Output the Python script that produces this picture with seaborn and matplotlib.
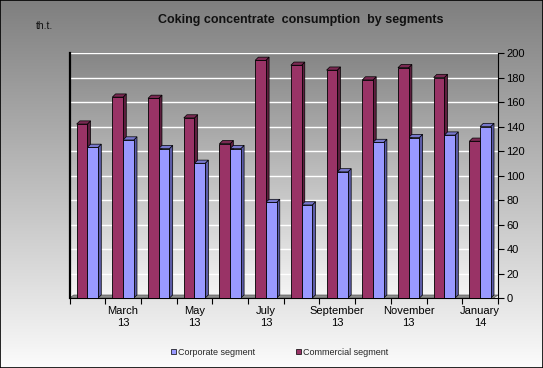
import matplotlib
matplotlib.use("Agg")
import matplotlib.pyplot as plt
from matplotlib.patches import Polygon, Patch
import seaborn as sns
import numpy as np
import pandas as pd

# Data (thousand tonnes)
months = ["Feb 13", "Mar 13", "Apr 13", "May 13", "Jun 13", "Jul 13",
          "Aug 13", "Sep 13", "Oct 13", "Nov 13", "Dec 13", "Jan 14"]
commercial = [142, 164, 163, 147, 126, 194, 190, 186, 178, 188, 180, 128]
corporate = [123, 129, 122, 110, 122, 78, 76, 103, 127, 131, 133, 140]
tick_pos = [1, 3, 5, 7, 9, 11]
tick_labels = ["March\n13", "May\n13", "July\n13", "September\n13",
               "November\n13", "January\n14"]
y_ticks = list(range(0, 201, 20))

df = pd.DataFrame({
    "month": months * 2,
    "segment": ["Commercial segment"] * 12 + ["Corporate segment"] * 12,
    "value": commercial + corporate,
})

sns.set_theme(style="white")
plt.rcParams["font.family"] = ["Liberation Sans", "DejaVu Sans"]

fig = plt.figure(figsize=(5.43, 3.68), dpi=100)

# background gradient for the whole chart area
bg = fig.add_axes([0, 0, 1, 1], zorder=-5)
grad = np.linspace(0, 1, 256).reshape(-1, 1)
bg.imshow(grad, aspect="auto", cmap=sns.blend_palette(["#7f7f7f", "#fbfbfb"], as_cmap=True),
          extent=[0, 1, 0, 1], origin="upper")
bg.set_axis_off()
fig.patches.append(plt.Rectangle((0, 0), 1, 1, transform=fig.transFigure, fill=False,
                                 edgecolor="black", linewidth=1.2))

ax = fig.add_axes([0.128, 0.19, 0.789, 0.666])
ax.imshow(grad, aspect="auto", cmap=sns.blend_palette(["#858585", "#f6f6f6"], as_cmap=True),
          extent=[0, 1, 0, 1], origin="upper", transform=ax.transAxes, zorder=-3)

palette = {"Commercial segment": "#993366", "Corporate segment": "#9999ff"}
sns.barplot(data=df, x="month", y="value", hue="segment",
            hue_order=["Commercial segment", "Corporate segment"],
            palette=palette, width=0.6, saturation=1, edgecolor="black",
            linewidth=0.6, legend=False, ax=ax, zorder=3)

ax.set_xlim(-0.5, 11.5)
ax.set_ylim(0, 200)

# fake depth on each bar
dx, dy = 0.09, 2.6
side = {"#993366": ("#5e1f3f", "#7a2952"), "#9999ff": ("#5c5ca8", "#7777cc")}
for bar in ax.patches:
    x0, w, h = bar.get_x(), bar.get_width(), bar.get_height()
    fc = matplotlib.colors.to_hex(bar.get_facecolor())
    s_col, t_col = side.get(fc, ("#555555", "#777777"))
    ax.add_patch(Polygon([(x0 + w, 0), (x0 + w + dx, dy), (x0 + w + dx, h + dy), (x0 + w, h)],
                         closed=True, facecolor=s_col, edgecolor="black", lw=0.5, zorder=2.5))
    ax.add_patch(Polygon([(x0, h), (x0 + dx, h + dy), (x0 + w + dx, h + dy), (x0 + w, h)],
                         closed=True, facecolor=t_col, edgecolor="black", lw=0.5, zorder=2.5))

# floor strip
ax.add_patch(Polygon([(-0.5, 0), (-0.38, 2.5), (11.5, 2.5), (11.38, 0)], closed=True,
                     facecolor="#8c8c8c", edgecolor="#555555", lw=0.5, zorder=1))

for v in y_ticks:
    ax.axhline(v, color="white", lw=1.0, zorder=0)

ax.yaxis.tick_right()
ax.set_yticks(y_ticks)
ax.tick_params(axis="y", right=True, length=4, width=0.8, color="black",
               labelsize=8, labelcolor="black", pad=2)
ax.set_xticks([i + 0.5 for i in range(-1, 12)])
ax.set_xticklabels([])
ax.tick_params(axis="x", which="major", bottom=True, length=4, width=0.8, color="black")
ax.set_xticks(tick_pos, minor=True)
ax.set_xticklabels(tick_labels, minor=True)
ax.tick_params(axis="x", which="minor", bottom=False, length=0, labelsize=8,
               labelcolor="black", pad=6)
ax.set_xlabel("")
ax.set_ylabel("")
for name, sp in ax.spines.items():
    sp.set_visible(name in ("left", "right", "bottom"))
    sp.set_color("black")
    sp.set_linewidth(0.8)
ax.spines["left"].set_linewidth(1.6)

fig.text(0.553, 0.945, "Coking concentrate  consumption  by segments", ha="center",
         va="center", fontsize=9, fontweight="bold", color="#111111")
fig.text(0.067, 0.928, "th.t.", ha="left", va="center", fontsize=7.5, color="#111111")

handles = [Patch(facecolor=palette["Corporate segment"], edgecolor="black", lw=0.5),
           Patch(facecolor=palette["Commercial segment"], edgecolor="black", lw=0.5)]
fig.legend(handles, ["Corporate segment", "Commercial segment"], loc="center",
           bbox_to_anchor=(0.515, 0.043), ncol=2, frameon=False, fontsize=6.5,
           handlelength=0.6, handleheight=0.6, handletextpad=0.2, columnspacing=4.5)

fig.savefig("out.png", dpi=100)
